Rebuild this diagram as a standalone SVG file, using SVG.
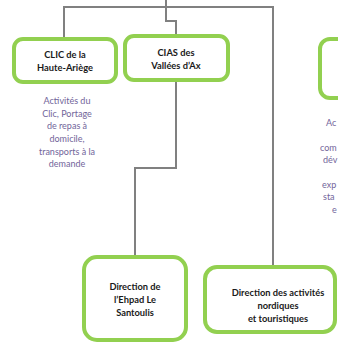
<svg xmlns="http://www.w3.org/2000/svg" width="338" height="347" viewBox="0 0 338 347">
<style>
.box{fill:#ffffff;stroke:#92d050;stroke-width:4}
.lbl{font-family:Lato,"Open Sans",sans-serif;font-weight:bold;font-size:9.3px;fill:#1a1a1a;text-anchor:middle}
.desc{font-family:Lato,"Open Sans",sans-serif;font-size:9px;fill:#72659a;text-anchor:middle}
.descs{font-family:Lato,"Open Sans",sans-serif;font-size:9px;fill:#72659a}
.conn{fill:none;stroke:#808080;stroke-width:2}
</style>
<rect width="338" height="347" fill="#ffffff"/>
<g id="connectors">
<path class="conn" d="M64,37 V7 H273 V266"/>
<path class="conn" d="M166,0 V21 H176 V35"/>
<path class="conn" d="M176,81 V168 H135 V256"/>
</g>
<g id="clic">
<rect class="box" x="14" y="39" width="102" height="43" rx="9"/>
<text class="lbl" x="65" y="58">CLIC de la</text>
<text class="lbl" x="65" y="71">Haute-Ariège</text>
</g>
<g id="clic-desc">
<text class="desc" x="67" y="104">Activités du</text>
<text class="desc" x="67" y="117">Clic, Portage</text>
<text class="desc" x="67" y="129">de repas à</text>
<text class="desc" x="67" y="142">domicile,</text>
<text class="desc" x="67" y="155">transports à la</text>
<text class="desc" x="67" y="167">demande</text>
</g>
<g id="cias">
<rect class="box" x="125" y="36" width="103" height="44" rx="9"/>
<text class="lbl" x="176" y="56">CIAS des</text>
<text class="lbl" x="176" y="69">Vallées d’Ax</text>
</g>
<g id="right-node">
<rect class="box" x="320" y="39" width="100" height="59" rx="10"/>
</g>
<g id="right-desc">
<text class="descs" x="326" y="126">Ac</text>
<text class="descs" x="320" y="151">com</text>
<text class="descs" x="323" y="163">dév</text>
<text class="descs" x="322" y="188">exp</text>
<text class="descs" x="323" y="200">sta</text>
<text class="descs" x="332" y="213">e</text>
</g>
<g id="ehpad">
<rect class="box" x="84" y="257" width="102" height="83" rx="13"/>
<text class="lbl" x="135" y="290">Direction de</text>
<text class="lbl" x="135" y="303">l’Ehpad Le</text>
<text class="lbl" x="135" y="316">Santoulis</text>
</g>
<g id="nordiques">
<rect class="box" x="205" y="267" width="130" height="65" rx="12"/>
<text class="lbl" x="278" y="296">Direction des activités</text>
<text class="lbl" x="278" y="309">nordiques</text>
<text class="lbl" x="278" y="322">et touristiques</text>
</g>
</svg>
